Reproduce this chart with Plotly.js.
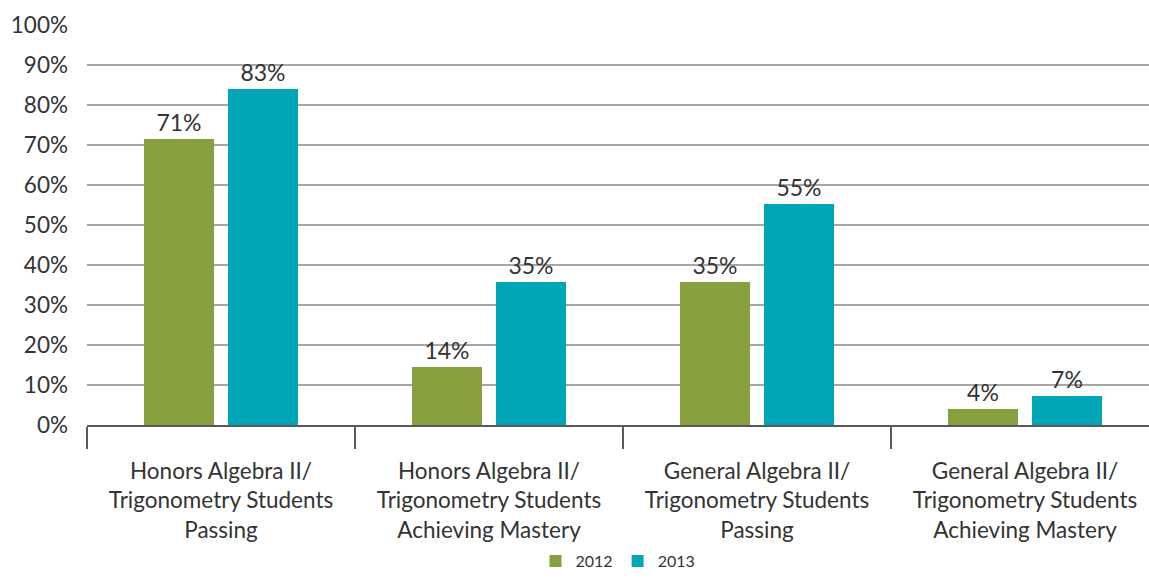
<!DOCTYPE html>
<html><head><meta charset="utf-8">
<script src="https://cdn.plot.ly/plotly-3.0.1.min.js"></script>
<style>html,body{margin:0;padding:0;background:#fff}#chart{width:1149px;height:578px}</style>
</head><body><div id="chart"></div>
<script>
const categories = [
  "Honors Algebra II/<br>Trigonometry Students<br>Passing",
  "Honors Algebra II/<br>Trigonometry Students<br>Achieving Mastery",
  "General Algebra II/<br>Trigonometry Students<br>Passing",
  "General Algebra II/<br>Trigonometry Students<br>Achieving Mastery"
];
const values2012 = [71.5, 14.5, 35.75, 4];
const values2013 = [84, 35.75, 55.25, 7.25];
const labels2012 = ["71%", "14%", "35%", "4%"];
const labels2013 = ["83%", "35%", "55%", "7%"];
const yTickVals = [0,10,20,30,40,50,60,70,80,90,100];
const yTickText = ["0%","10%","20%","30%","40%","50%","60%","70%","80%","90%","100%"];

const font = "Lato, 'Open Sans', sans-serif";
const traces = [
  {type:'bar', name:'2012', x:categories, y:values2012, text:labels2012, textposition:'outside',
   textfont:{size:23,color:'#333'}, marker:{color:'#87a03d'}, cliponaxis:false, hoverinfo:'skip'},
  {type:'bar', name:'2013', x:categories, y:values2013, text:labels2013, textposition:'outside',
   textfont:{size:23,color:'#333'}, marker:{color:'#00a6b6'}, cliponaxis:false, hoverinfo:'skip'}
];
const layout = {
  width:1149, height:578,
  margin:{l:87, r:0, t:25, b:153},
  paper_bgcolor:'#fff', plot_bgcolor:'#fff',
  font:{family:font, color:'#333'},
  barmode:'group', bargap:0.373, bargroupgap:0.1667,
  showlegend:true,
  legend:{orientation:'h', x:0.5, xanchor:'center', yref:'container', y:-0.03, yanchor:'bottom',
          font:{size:16,color:'#333'}, itemwidth:30, tracegroupgap:0},
  xaxis:{type:'category', range:[-0.5, 3.4627], showgrid:false, zeroline:false,
         showline:true, linecolor:'#595959', linewidth:2,
         ticks:'outside', tickson:'boundaries', ticklen:22, tickwidth:2, tickcolor:'#595959',
         ticklabelstandoff:25, tickfont:{size:22.5,color:'#333'}, fixedrange:true},
  yaxis:{range:[0,100], tickvals:yTickVals, ticktext:yTickText, showgrid:true,
         gridcolor:'#a6a6a6', gridwidth:2, zeroline:false, showline:false, ticks:'',
         ticklabelstandoff:18, tickfont:{size:22.5,color:'#333'}, fixedrange:true}
};
Plotly.newPlot('chart', traces, layout, {displayModeBar:false, staticPlot:true});
</script></body></html>
